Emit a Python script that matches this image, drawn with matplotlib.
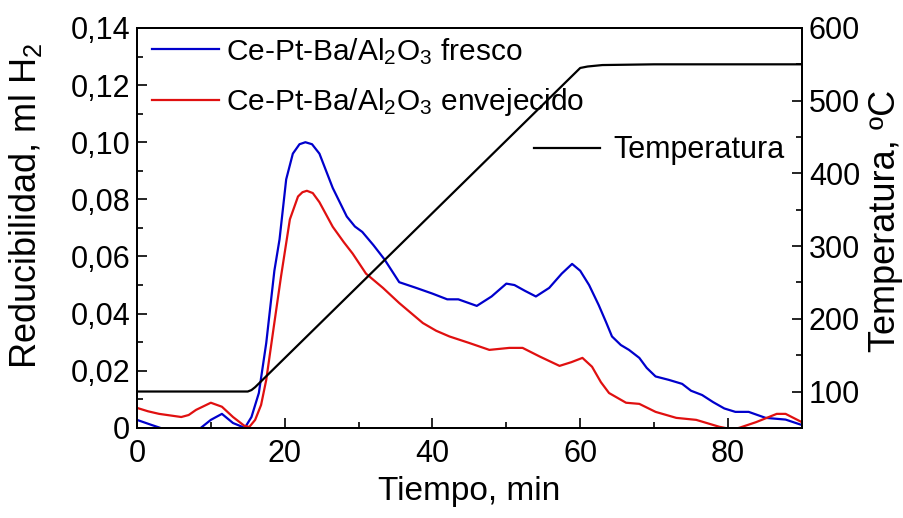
import matplotlib
matplotlib.use("Agg")
import matplotlib.pyplot as plt
from matplotlib.ticker import MultipleLocator, FuncFormatter

plt.rcParams["font.family"] = ["Liberation Sans", "DejaVu Sans"]
plt.rcParams["mathtext.fontset"] = "custom"
plt.rcParams["mathtext.rm"] = "Liberation Sans"
plt.rcParams["mathtext.default"] = "regular"

# -------------------------
# DATA
# -------------------------
t_fresco = [0, 2, 3.5, 6, 8.5, 10, 11.5, 13, 14.6, 15.5, 16.5, 17.5, 18.6, 19.3,
            20.2, 21.1, 22, 22.8, 23.7, 24.7, 25.6, 26.5, 28.4, 29.5, 30.5, 32,
            33.5, 35.5, 37.8, 40, 42, 43.5, 46, 48, 50, 51.1, 52.5, 54, 55.8,
            57.5, 58.9, 60, 61.2, 62.5, 63.5, 64.3, 65.5, 66.6, 68, 69, 70.2, 72,
            73.8, 75, 76.5, 78, 79.5, 81, 82.8, 84, 85.1, 87.8, 90]
h2_fresco = [0.0028, 0.001, -0.0003, -0.0003, -0.0003, 0.0028, 0.0049, 0.0017, 0.0,
             0.0038, 0.0122, 0.0297, 0.055, 0.066, 0.087, 0.096, 0.0993, 0.100,
             0.0993, 0.096, 0.090, 0.084, 0.074, 0.0705, 0.0686, 0.064, 0.059,
             0.051, 0.049, 0.047, 0.045, 0.045, 0.0427, 0.046, 0.0505, 0.050,
             0.048, 0.046, 0.049, 0.054, 0.0574, 0.055, 0.050, 0.043, 0.037,
             0.032, 0.029, 0.0273, 0.0245, 0.021, 0.018, 0.0168, 0.0154, 0.013,
             0.0115, 0.009, 0.0068, 0.0056, 0.0056, 0.0045, 0.0035, 0.0029, 0.001]

t_envej = [0, 1.5, 3, 6, 7, 8, 10, 11.5, 13, 14.5, 15.2, 16, 16.8, 17.5, 18.5,
           19.5, 20.7, 21.8, 22.4, 23, 23.8, 24.7, 26.5, 28, 29.2, 31, 33.3,
           35.5, 38.7, 40.5, 42.3, 45, 47.7, 50.4, 52.2, 54.5, 57.2, 58.8, 60.3,
           61.6, 62.8, 63.9, 66.2, 68, 70.2, 73, 75.7, 78.8, 80.5, 81.5, 83.8,
           86.6, 87.8, 90]
h2_envej = [0.007, 0.0058, 0.0049, 0.0038, 0.0045, 0.0063, 0.0088, 0.0074, 0.0038,
            0.0008, 0.0003, 0.0028, 0.008, 0.0168, 0.035, 0.053, 0.073, 0.081,
            0.0825, 0.083, 0.0822, 0.079, 0.0704, 0.065, 0.061, 0.054, 0.049,
            0.0437, 0.0367, 0.034, 0.032, 0.0297, 0.0273, 0.028, 0.028, 0.025,
            0.0217, 0.023, 0.0245, 0.0214, 0.016, 0.0122, 0.0088, 0.0084, 0.0056,
            0.0035, 0.0028, 0.0004, -0.0005, 0.0, 0.002, 0.0049, 0.0049, 0.002]

t_temp = [0, 15, 15.5, 16, 60, 61, 63, 70, 90]
temp = [100, 100, 102, 106, 545, 547, 549, 550, 550]

lbl_fresco = "Ce-Pt-Ba/Al$_2$O$_3$ fresco"
lbl_envej = "Ce-Pt-Ba/Al$_2$O$_3$ envejecido"
lbl_temp = "Temperatura"


def comma_fmt(v, pos):
    if abs(v) < 1e-9:
        return "0"
    return f"{v:.2f}".replace(".", ",")


fig = plt.figure(figsize=(9.04, 5.18), dpi=100)
ax = fig.add_axes([0.1515, 0.174, 0.7355, 0.772])
ax2 = ax.twinx()

ax.plot(t_fresco, h2_fresco, color="#0000cc", lw=1.6, label=lbl_fresco)
ax.plot(t_envej, h2_envej, color="#e01010", lw=1.6, label=lbl_envej)
ax2.plot(t_temp, temp, color="black", lw=1.6, label=lbl_temp)

ax.set_xlim(0, 90)
ax.set_ylim(0, 0.14)
ax2.set_ylim(50, 600)

ax.xaxis.set_major_locator(MultipleLocator(20))
ax.xaxis.set_minor_locator(MultipleLocator(10))
ax.yaxis.set_major_locator(MultipleLocator(0.02))
ax.yaxis.set_minor_locator(MultipleLocator(0.01))
ax.yaxis.set_major_formatter(FuncFormatter(comma_fmt))
ax2.yaxis.set_major_locator(MultipleLocator(100))
ax2.yaxis.set_minor_locator(MultipleLocator(50))

for a in (ax, ax2):
    a.tick_params(which="both", direction="in", labelsize=22, width=1.2)
    a.tick_params(which="major", length=7)
    a.tick_params(which="minor", length=4)
    for s in a.spines.values():
        s.set_linewidth(1.4)
ax.tick_params(axis="y", which="both", right=False, pad=5)
ax.tick_params(axis="x", which="both", top=False, pad=8)
ax2.tick_params(axis="y", which="both", left=False, pad=5)

ax.set_xlabel("Tiempo, min", fontsize=24, labelpad=5)
ax.set_ylabel("Reducibilidad, ml H$_2$", fontsize=26)
ax.yaxis.set_label_coords(-0.14, 0.555)
ax2.set_ylabel("Temperatura, ºC", fontsize=26)
ax2.yaxis.set_label_coords(1.1, 0.517)

ax.legend(loc="upper left", bbox_to_anchor=(-0.005, 1.025), frameon=False,
          fontsize=21.5, handlelength=2.25, handletextpad=0.25, labelspacing=0.65,
          borderaxespad=0.2)
ax2.legend(loc="upper left", bbox_to_anchor=(0.57, 0.777), frameon=False,
           fontsize=22, handlelength=2.15, handletextpad=0.45, borderaxespad=0.2)

fig.savefig("out.png", dpi=100)
